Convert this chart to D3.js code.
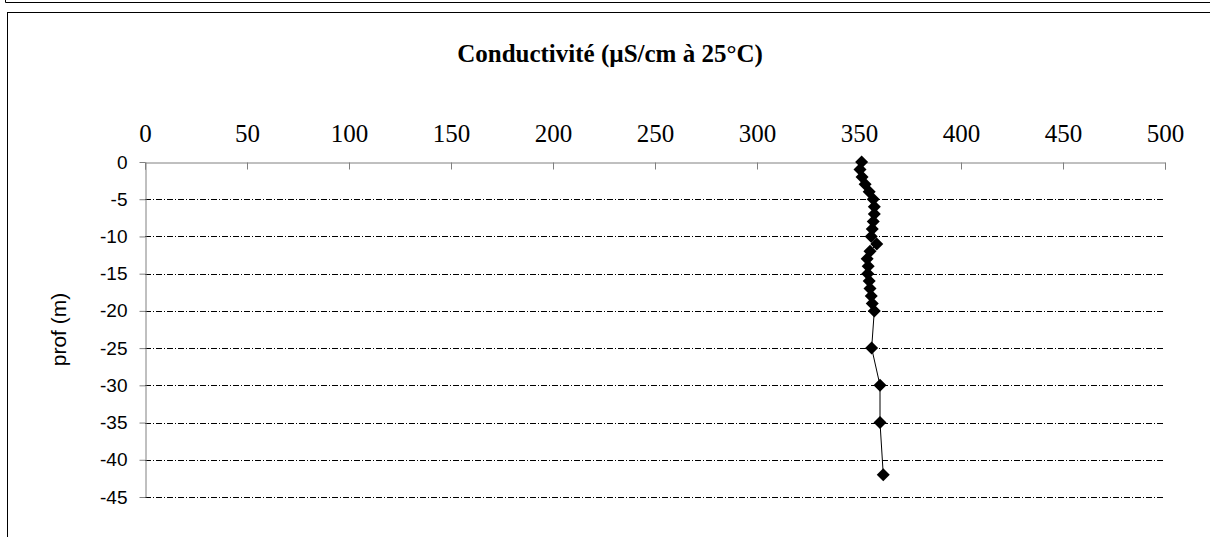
<!DOCTYPE html>
<html>
<head>
<meta charset="utf-8">
<script src="https://cdn.jsdelivr.net/npm/d3@7"></script>
<style>
  body { margin: 0; background: #fff; }
  svg { display: block; }
</style>
</head>
<body>
<div id="chart"></div>
<script>
// depth (m) and conductivity (µS/cm at 25°C)
const depths = [0, -1, -2, -3, -4, -5, -6, -7, -8, -9, -10, -11, -12, -13, -14, -15, -16, -17, -18, -19, -20, -25, -30, -35, -42];
const conductivity = [351.3, 350.5, 351.5, 353, 355, 357, 357.5, 357.5, 357, 356.5, 356, 358.7, 355.4, 354, 354.5, 354.3, 355, 355.4, 356, 356.5, 357.5, 356.2, 360.3, 360.3, 361.9];
const xTicks = [0, 50, 100, 150, 200, 250, 300, 350, 400, 450, 500];
const yTicks = [0, -5, -10, -15, -20, -25, -30, -35, -40, -45];
const title = "Conductivité (µS/cm à 25°C)";
const yLabel = "prof (m)";

const width = 1210, height = 537;
const plot = { left: 145, right: 1165, top: 162, bottom: 497 };

const data = depths.map((d, i) => ({ depth: d, value: conductivity[i] }));

const svg = d3.select("#chart")
    .append("svg")
    .attr("width", width)
    .attr("height", height);

// frames: bottom of the previous box and the chart box
svg.append("path")
    .attr("d", "M5.5,0V2.5H" + width)
    .attr("fill", "none")
    .attr("stroke", "#000");
svg.append("rect")
    .attr("x", 7.5).attr("y", 12.5)
    .attr("width", width).attr("height", height)
    .attr("fill", "none")
    .attr("stroke", "#000");

const xScale = d3.scaleLinear()
    .domain([0, 500])
    .range([plot.left, plot.right]);

const yScale = d3.scaleLinear()
    .domain([0, -45])
    .range([plot.top, plot.bottom]);

// dash-dot gridlines
svg.append("g")
    .selectAll("line")
    .data(yTicks.filter(t => t !== 0))
    .enter().append("line")
    .attr("x1", plot.left)
    .attr("x2", plot.right)
    .attr("y1", d => Math.round(yScale(d)) + 0.5)
    .attr("y2", d => Math.round(yScale(d)) + 0.5)
    .style("stroke", "#000")
    .style("stroke-width", 1)
    .style("stroke-dasharray", "6,2,1,2");

const xAxis = svg.append("g")
    .attr("transform", "translate(0," + (plot.top + 0.5) + ")")
    .call(d3.axisTop(xScale)
        .tickValues(xTicks)
        .tickFormat(d => String(d))
        .tickSizeInner(-7)
        .tickSizeOuter(-7)
        .tickPadding(21));

xAxis.selectAll("path, line").attr("stroke", "#808080");
xAxis.selectAll("text")
    .attr("fill", "#000")
    .style("font-family", "'Liberation Serif', 'Times New Roman', serif")
    .style("font-size", "25px");

const yAxis = svg.append("g")
    .attr("transform", "translate(" + (plot.left + 0.5) + ",0)")
    .call(d3.axisLeft(yScale)
        .tickValues(yTicks)
        .tickFormat(d => String(d))
        .tickSizeInner(6)
        .tickSizeOuter(0)
        .tickPadding(12));

yAxis.selectAll("path, line").attr("stroke", "#808080");
yAxis.selectAll("text")
    .attr("fill", "#000")
    .style("font-family", "'Liberation Sans', Arial, sans-serif")
    .style("font-size", "19px");

svg.append("text")
    .attr("x", 610)
    .attr("y", 62)
    .attr("text-anchor", "middle")
    .style("font-family", "'Liberation Serif', 'Times New Roman', serif")
    .style("font-weight", "bold")
    .style("font-size", "25px")
    .text(title);

svg.append("text")
    .attr("transform", "translate(66," + ((plot.top + plot.bottom) / 2) + ") rotate(-90)")
    .attr("text-anchor", "middle")
    .style("font-family", "'Liberation Sans', Arial, sans-serif")
    .style("font-size", "21px")
    .text(yLabel);

const line = d3.line()
    .x(d => xScale(d.value))
    .y(d => yScale(d.depth));

svg.append("path")
    .datum(data)
    .attr("d", line)
    .attr("fill", "none")
    .attr("stroke", "#000")
    .attr("stroke-width", 1);

svg.append("g")
    .selectAll("path")
    .data(data)
    .enter().append("path")
    .attr("d", "M0,-6.5L6.5,0L0,6.5L-6.5,0Z")
    .attr("transform", d => "translate(" + xScale(d.value) + "," + yScale(d.depth) + ")")
    .attr("fill", "#000");
</script>
</body>
</html>
